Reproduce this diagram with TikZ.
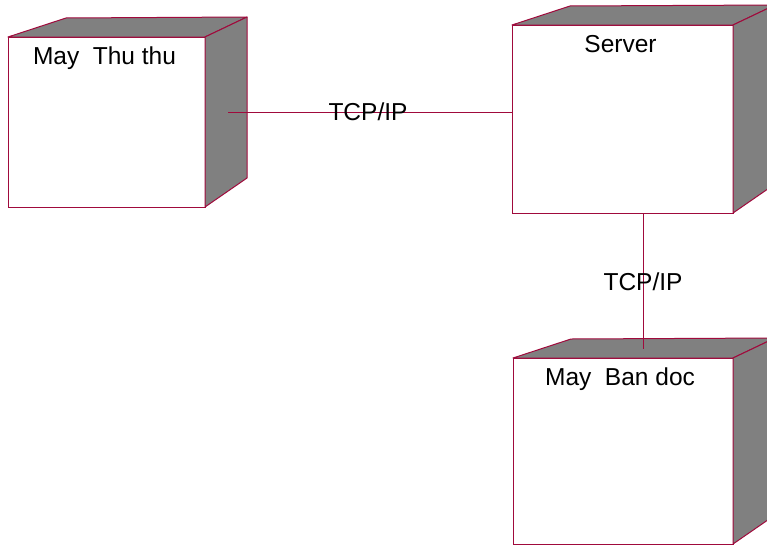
\documentclass[tikz,border=0pt]{standalone}
\usepackage{fontspec}
\setmainfont{Liberation Sans}
\usepackage{xcolor}
\usepackage{tikz}
\usetikzlibrary{positioning,calc}

\definecolor{edgered}{RGB}{160,10,60}
\definecolor{shade}{RGB}{128,128,128}

\tikzset{
  front/.style={draw=edgered, line width=1pt, fill=white, outer sep=0pt, inner sep=0pt},
  lbl/.style={font=\fontsize{24.5}{28}\selectfont, inner sep=0pt},
  link/.style={draw=edgered, line width=1pt},
  face/.style={fill=shade, draw=edgered, line width=1pt, line join=round}
}

% top and side faces of a deployment node
\newcommand{\nodefaces}[1]{%
  \draw[face] (#1.north west) -- ++(58,-19) -- ($(#1.north east)+(42,-20)$) -- (#1.north east) -- cycle;
  \draw[face] (#1.north east) -- ++(42,-20) -- ($(#1.south east)+(42,-29)$) -- (#1.south east) -- cycle;
}

\begin{document}
\begin{tikzpicture}[x=1pt,y=-1pt]
    \useasboundingbox (0,0) rectangle (767,546);
    \clip (0,0) rectangle (767,546);
    \fill[white] (0,0) rectangle (767,546);

    % the three nodes
    \node[front, minimum width=197, minimum height=170] (thuthu) at (106.5,122) {};
    \node[front, minimum width=221, minimum height=188] (server) at (622.5,119) {};
    \node[front, minimum width=220, minimum height=186] (bandoc) at (623,451) {};

    \nodefaces{thuthu}
    \nodefaces{server}
    \nodefaces{bandoc}

    \node[lbl, anchor=base] (thuthuname) at ($(thuthu.north)+(-2,27)$) {May\ \ Thu thu};
    \node[lbl, anchor=base] (servername) at ($(server.north)+(-2,27)$) {Server};
    \node[lbl, anchor=base] (bandocname) at ($(bandoc.north)+(-3,27)$) {May\ \ Ban doc};

    % links
    \coordinate (t1) at ($(thuthu.east)+(23,-10)$);
    \draw[link] (t1) -- node[lbl, anchor=base, midway, yshift=-8pt, xshift=-2pt] (tcp1) {TCP/IP} (t1 -| server.west);

    \coordinate (s1) at ($(server.south)+(20.5,0)$);
    \draw[link] (s1) -- node[lbl, anchor=base, midway, yshift=-9pt] (tcp2) {TCP/IP} ($(s1 |- bandoc.north)+(0,-9)$);
\end{tikzpicture}
\end{document}
